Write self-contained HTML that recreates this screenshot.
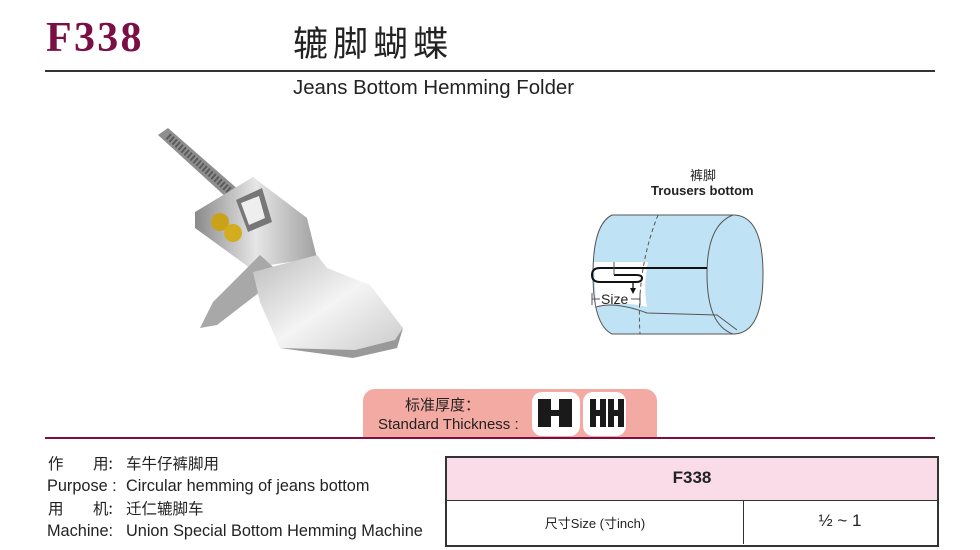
<!DOCTYPE html>
<html><head><meta charset="utf-8"><style>
body{margin:0;width:980px;height:550px;background:#fff;position:relative;overflow:hidden;font-family:"Liberation Sans","Noto Sans CJK SC",sans-serif;color:#222}
.a{position:absolute;white-space:nowrap}
.t{font-size:16.3px;line-height:20px}
</style></head><body>
<div class="a" style="left:46px;top:14px;font:bold 42px 'Liberation Serif',serif;color:#7a0f45;letter-spacing:2.3px">F338</div>
<div class="a" style="left:293px;top:16px;font-size:35px;letter-spacing:5px;color:#222;font-family:'Noto Sans CJK SC',sans-serif">辘脚蝴蝶</div>
<div class="a" style="left:45px;top:70px;width:890px;height:2px;background:#333"></div>
<div class="a" style="left:293px;top:77px;font-size:20.4px">Jeans Bottom Hemming Folder</div>

<svg class="a" style="left:140px;top:115px" width="280" height="270" viewBox="140 115 280 270">
 <defs>
  <linearGradient id="m" x1="0" x2="1"><stop offset="0" stop-color="#8a8a8a"/><stop offset=".5" stop-color="#e6e6e6"/><stop offset="1" stop-color="#a0a0a0"/></linearGradient>
  <linearGradient id="b" x1="0" y1="0" x2="1" y2="1"><stop offset="0" stop-color="#bdbdbd"/><stop offset=".5" stop-color="#f4f4f4"/><stop offset="1" stop-color="#c8c8c8"/></linearGradient>
 </defs>
 <path d="M158 135 L168 128 L248 198 L238 208 Z" fill="#8e8e8e"/>
 <path d="M168 136 L240 200" stroke="#5a5a5a" stroke-width="7" stroke-dasharray="2,2"/>
 <path d="M195 212 L253 177 L307 218 L317 258 L250 268 L195 228 Z" fill="url(#m)"/>
 <path d="M236 200 L262 188 L272 222 L248 232 Z" fill="#777"/>
 <path d="M241 203 L259 196 L265 218 L249 225 Z" fill="#eee"/>
 <circle cx="220" cy="222" r="9" fill="#c9a21a"/>
 <circle cx="233" cy="233" r="9" fill="#d4ac20"/>
 <path d="M200 328 L213 302 L260 255 L282 275 L217 325 Z" fill="#a8a8a8"/>
 <path d="M253 272 L317 255 L327 268 L370 285 L403 328 L397 348 L353 358 L280 348 L260 302 Z" fill="url(#b)"/>
 <path d="M280 348 L353 358 L397 348 L403 328 L395 340 L355 350 Z" fill="#999"/>
</svg>

<div class="a" style="left:690px;top:165px;font-size:13px;font-family:'Noto Sans CJK SC',sans-serif">裤脚</div>
<div class="a" style="left:651px;top:183px;font-size:13px;font-weight:bold">Trousers bottom</div>
<svg class="a" style="left:560px;top:205px" width="220" height="140" viewBox="560 205 220 140">
 <path d="M612 215 L733 215 Q763 215 763 274 Q763 334 733 334 L612 334 Q593 325 593 274 Q593 224 612 215 Z" fill="#c0e2f5" stroke="#555" stroke-width="1"/>
 <path d="M733 215 Q707 225 707 274 Q707 325 733 334" fill="none" stroke="#555"/>
 <path d="M594 262 L648 262 Q643 285 647 307 Q620 300 596 307 Z" fill="#fff"/>
 <path d="M596 307 Q615 301 647 313 L717 315 L737 330" fill="none" stroke="#555"/>
 <path d="M658 215 Q636 270 640 334" fill="none" stroke="#555" stroke-dasharray="4,3"/>
 <path d="M707 268 L600 268 Q592 268 592 275 Q592 282 600 282 L636 282 Q642 282 642 278 Q642 275 636 275 L614 275" fill="none" stroke="#111" stroke-width="2"/>
 <path d="M614 262 L614 275" stroke="#555"/>
 <path d="M633 282 L633 291" stroke="#111" stroke-width="1.3"/><path d="M630 288 L633 294 L636 288Z" fill="#111"/>
 <path d="M592 293 L592 305 M640 293 L640 305 M592 299 L600 299 M631 299 L640 299" stroke="#555"/>
</svg>
<div class="a" style="left:601px;top:291px;font-size:14px">Size</div>

<div class="a" style="left:363px;top:389px;width:294px;height:49px;background:#f3aaa2;border-radius:12px 12px 0 0"></div>
<div class="a" style="left:405px;top:394px;font-size:15px;font-family:'Noto Sans CJK SC',sans-serif">标准厚度：</div>
<div class="a" style="left:378px;top:416px;font-size:15px">Standard Thickness :</div>
<svg class="a" style="left:530px;top:390px" width="100" height="48">
 <rect x="2" y="2" width="48" height="44" rx="10" fill="#fff"/>
 <rect x="53" y="2" width="43" height="44" rx="10" fill="#fff"/>
 <path d="M8 9h13v11h8v-11h13v28h-13v-11h-8v11h-13z" fill="#1a1a1a"/>
 <path d="M60 9h6v11h4v-11h6v28h-6v-11h-4v11h-6zM78 9h6v11h4v-11h6v28h-6v-11h-4v11h-6z" fill="#1a1a1a"/>
</svg>
<div class="a" style="left:45px;top:437px;width:890px;height:2px;background:#7a1040"></div>

<div class="a t" style="left:48px;top:453px;font-family:'Noto Sans CJK SC',sans-serif;font-size:15.5px">作</div>
<div class="a t" style="left:93px;top:453px;font-family:'Noto Sans CJK SC',sans-serif;font-size:15.5px">用:</div>
<div class="a t" style="left:126px;top:453px;font-family:'Noto Sans CJK SC',sans-serif;font-size:15.5px">车牛仔裤脚用</div>
<div class="a t" style="left:47px;top:476px">Purpose :</div>
<div class="a t" style="left:126px;top:476px">Circular hemming of jeans bottom</div>
<div class="a t" style="left:48px;top:498px;font-family:'Noto Sans CJK SC',sans-serif;font-size:15.5px">用</div>
<div class="a t" style="left:93px;top:498px;font-family:'Noto Sans CJK SC',sans-serif;font-size:15.5px">机:</div>
<div class="a t" style="left:126px;top:498px;font-family:'Noto Sans CJK SC',sans-serif;font-size:15.5px">迁仁辘脚车</div>
<div class="a t" style="left:47px;top:521px">Machine:</div>
<div class="a t" style="left:126px;top:521px">Union Special Bottom Hemming Machine</div>

<div class="a" style="left:445px;top:456px;width:490px;height:87px;border:2px solid #333"></div>
<div class="a" style="left:447px;top:458px;width:490px;height:42px;background:#f9dce8;border-bottom:1px solid #333"></div>
<div class="a" style="left:447px;top:468px;width:490px;text-align:center;font-weight:bold;font-size:17px">F338</div>
<div class="a" style="left:743px;top:501px;width:1px;height:43px;background:#333"></div>
<div class="a" style="left:447px;top:513px;width:296px;text-align:center;font-size:13px">尺寸Size (寸inch)</div>
<div class="a" style="left:744px;top:511px;width:192px;text-align:center;font-size:17px">½ ~ 1</div>
</body></html>
